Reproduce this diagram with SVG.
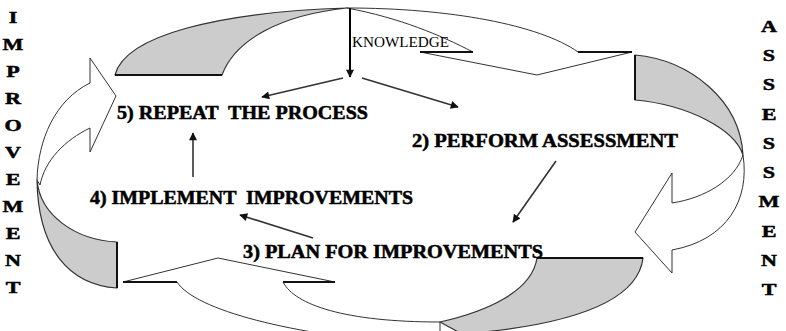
<svg xmlns="http://www.w3.org/2000/svg" width="786" height="331" viewBox="0 0 786 331">
  <style>
    .back { fill: #cccccc; stroke: #333333; stroke-width: 1.2; stroke-linejoin: round; }
    .front { fill: #ffffff; stroke: #333333; stroke-width: 1; stroke-linejoin: miter; }
    .edge { fill: none; stroke: #111111; stroke-width: 2; }
    .step { font-family: "Liberation Serif", "Times New Roman", serif; font-weight: bold; font-size: 18px; fill: #000000; stroke: #000000; stroke-width: 0.5; }
    .side { font-family: "Liberation Serif", "Times New Roman", serif; font-weight: bold; font-size: 17px; fill: #000000; stroke: #000000; stroke-width: 0.5; text-anchor: middle; }
    .small { font-family: "Liberation Serif", "Times New Roman", serif; font-size: 15px; fill: #000000; }
    .link { fill: none; stroke: #333333; stroke-width: 1.6; }
    .main { fill: none; stroke: #000000; stroke-width: 2; }
  </style>
  <defs>
    <marker id="head" viewBox="0 0 10 10" refX="9" refY="5" markerWidth="10" markerHeight="8" markerUnits="userSpaceOnUse" orient="auto">
      <path d="M0,0 L10,5 L0,10 Z" fill="#111111"/>
    </marker>
  </defs>

  <rect width="786" height="331" fill="#ffffff"/>

  <!-- cycle ribbon: top arrow -->
  <g id="cycle-top">
    <path class="back" d="M115,75 C125,35 220,12 347,8 C280,15 235,40 222,75 Z"/>
    <path class="edge" d="M115,75 L222,75"/>
    <path class="front" d="M347,8 C450,8 540,25 578,52 L632,52 L537,75 L420,52 L473,52 C440,35 400,18 347,8 Z"/>
    <path class="edge" d="M578,52 L632,52 M420,52 L473,52" stroke-width="1.3"/>
  </g>

  <!-- cycle ribbon: right arrow -->
  <g id="cycle-right">
    <path class="back" d="M635,55 C690,60 740,100 743,155 C735,130 690,105 635,100 Z"/>
    <path class="edge" d="M635,55 L635,100"/>
    <path class="front" d="M743,155 C750,200 727,240 672,250 L672,273 L635,232 L672,173 L672,203 C705,198 735,180 743,155 Z"/>
  </g>

  <!-- cycle ribbon: bottom arrow -->
  <g id="cycle-bottom">
    <path class="front" d="M123,282 L218,258 L335,282 L283,282 C295,305 345,322 440,322 L440,345 L420,345 C290,335 195,310 177,282 Z"/>
    <path class="edge" d="M123,282 L177,282 M283,282 L335,282"/>
    <path class="back" d="M537,258 L643,258 C638,300 575,325 462,334 L440,322 C485,312 532,292 537,258 Z"/>
    <path class="edge" d="M537,258 L643,258" stroke-width="1.3"/>
  </g>

  <!-- cycle ribbon: left arrow -->
  <g id="cycle-left">
    <path class="front" d="M37,180 C38,140 55,100 90,83 L90,58 L116,96 L90,152 L90,128 C65,140 45,160 40,185 Z"/>
    <path class="back" d="M117,242 L117,288 C70,285 38,250 37,180 C40,215 75,240 117,242 Z"/>
    <path class="edge" d="M117,242 L117,288"/>
  </g>

  <!-- side captions -->
  <g id="label-improvement" transform="translate(13,0) scale(1.3,1)">
    <text class="side" x="0" y="23">I</text>
    <text class="side" x="0" y="50">M</text>
    <text class="side" x="0" y="77">P</text>
    <text class="side" x="0" y="104">R</text>
    <text class="side" x="0" y="131">O</text>
    <text class="side" x="0" y="158">V</text>
    <text class="side" x="0" y="185">E</text>
    <text class="side" x="0" y="212">M</text>
    <text class="side" x="0" y="239">E</text>
    <text class="side" x="0" y="266">N</text>
    <text class="side" x="0" y="293">T</text>
  </g>
  <g id="label-assessment" transform="translate(769,0) scale(1.3,1)">
    <text class="side" x="0" y="32">A</text>
    <text class="side" x="0" y="61">S</text>
    <text class="side" x="0" y="90">S</text>
    <text class="side" x="0" y="120">E</text>
    <text class="side" x="0" y="149">S</text>
    <text class="side" x="0" y="178">S</text>
    <text class="side" x="0" y="207">M</text>
    <text class="side" x="0" y="237">E</text>
    <text class="side" x="0" y="266">N</text>
    <text class="side" x="0" y="295">T</text>
  </g>

  <!-- steps -->
  <g id="knowledge">
    <text class="small" x="352" y="47" textLength="97" lengthAdjust="spacingAndGlyphs">KNOWLEDGE</text>
  </g>
  <g id="step-2">
    <text class="step" x="412" y="147" textLength="266" lengthAdjust="spacingAndGlyphs">2) PERFORM ASSESSMENT</text>
  </g>
  <g id="step-3">
    <text class="step" x="243" y="258" textLength="300" lengthAdjust="spacingAndGlyphs">3) PLAN FOR IMPROVEMENTS</text>
  </g>
  <g id="step-4">
    <text class="step" x="90" y="204" textLength="323" lengthAdjust="spacingAndGlyphs" xml:space="preserve">4) IMPLEMENT  IMPROVEMENTS</text>
  </g>
  <g id="step-5">
    <text class="step" x="117" y="119" textLength="251" lengthAdjust="spacingAndGlyphs" xml:space="preserve">5) REPEAT  THE PROCESS</text>
  </g>

  <!-- connectors -->
  <g id="connectors">
    <path class="main" d="M350,8 L350,77" marker-end="url(#head)"/>
    <path class="link" d="M343,78 L262,97" marker-end="url(#head)"/>
    <path class="link" d="M362,78 L458,107" marker-end="url(#head)"/>
    <path class="link" d="M556,161 L513,222" marker-end="url(#head)"/>
    <path class="link" d="M313,238 L240,215" marker-end="url(#head)"/>
    <path class="link" d="M193,177 L193,133" marker-end="url(#head)"/>
  </g>
</svg>
